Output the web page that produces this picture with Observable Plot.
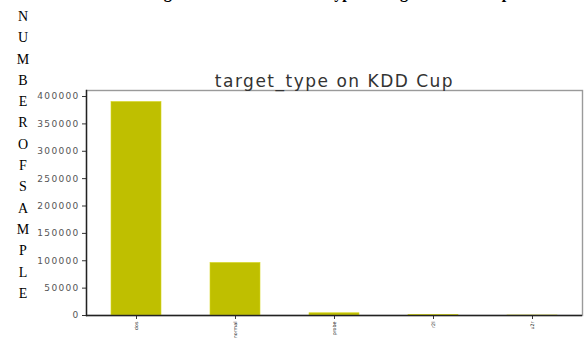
<!DOCTYPE html>
<html>
<head>
<meta charset="utf-8">
<script src="https://cdn.jsdelivr.net/npm/d3@7"></script>
<script src="https://cdn.jsdelivr.net/npm/@observablehq/plot@0.6"></script>
<style>
  html, body { margin: 0; padding: 0; background: #fff; }
  #fig { position: relative; width: 584px; height: 338px; overflow: hidden; background: #fff; }
  #caption {
    position: absolute; left: 120px; width: 420px; top: -15px;
    font: bold 16px "Liberation Serif", "Times New Roman", serif;
    line-height: 16px; text-align: center; color: #000; white-space: nowrap;
  }
  #ylabel {
    position: absolute; left: 13px; width: 20px; top: 6px;
    font: 14px "Liberation Serif", "Times New Roman", serif;
    line-height: 21.3px; text-align: center; color: #000;
  }
  #chart { position: absolute; left: 0; top: 0; }
  #chart g[aria-label="y-axis tick label"] text { letter-spacing: 1.3px; }
  #chart g[aria-label="text"] text { letter-spacing: 1.5px; }
</style>
</head>
<body>
<div id="fig">
  <div id="chart"></div>
  <div id="caption">Figure 2: Number of each type of target in KDD Cup</div>
  <div id="ylabel"></div>
</div>
<script>
// Sample counts per target type
const targetTypes = ["dos", "normal", "probe", "r2l", "u2r"];
const sampleCounts = [390000, 96000, 4100, 1100, 50];
const yTicks = [0, 50000, 100000, 150000, 200000, 250000, 300000, 350000, 400000];
const chartTitle = "target_type on KDD Cup";
const yLabel = "NUMBEROFSAMPLE";

const data = targetTypes.map((t, i) => ({type: t, count: sampleCounts[i]}));

// stacked letters of the vertical axis label
document.getElementById("ylabel").innerHTML =
  yLabel.split("").map(c => `<div>${c}</div>`).join("");

const chart = Plot.plot({
  width: 584,
  height: 338,
  marginTop: 90,
  marginLeft: 86,
  marginRight: 2,
  marginBottom: 23,
  style: {fontFamily: "DejaVu Sans, sans-serif", background: "transparent"},
  x: {domain: targetTypes, paddingInner: 0.5, paddingOuter: 0.25, label: null},
  y: {domain: [0, 411000], label: null},
  marks: [
    Plot.frame({stroke: "#9a9a9a", strokeWidth: 1.4}),
    Plot.barY(data, {x: "type", y: "count", fill: "#bfbf00", stroke: "#d8d820", strokeWidth: 0.6}),
    Plot.axisY({
      ticks: yTicks, tickSize: 4, tickPadding: 3, stroke: "#333",
      fontSize: 9, fill: "#555", tickFormat: d => String(d)
    }),
    Plot.axisX({
      tickSize: 4, tickPadding: 2, stroke: "#333", tickRotate: -90,
      fontSize: 4.8, fill: "#222", textAnchor: "end"
    }),
    Plot.frame({anchor: "left", stroke: "#222", strokeWidth: 1.4}),
    Plot.ruleY([0], {stroke: "#222", strokeWidth: 1.6}),
    Plot.text([chartTitle], {
      frameAnchor: "top", lineAnchor: "bottom", dy: -4,
      fontSize: 17, fill: "#333", fontFamily: "DejaVu Sans, sans-serif"
    })
  ]
});
document.getElementById("chart").appendChild(chart);
</script>
</body>
</html>
